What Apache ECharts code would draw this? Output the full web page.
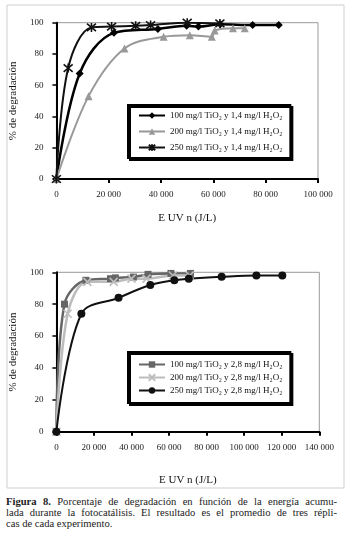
<!DOCTYPE html>
<html>
<head>
<meta charset="utf-8">
<script src="https://cdn.jsdelivr.net/npm/echarts@6/dist/echarts.min.js"></script>
<style>
body{margin:0;background:#fff;}
#main{position:absolute;left:0;top:0;width:352px;height:496px;}
#cap{position:absolute;left:6px;top:496px;width:331px;font:10.6px/11px "Liberation Serif",serif;color:#222;white-space:nowrap;}
#cap div{text-align:justify;text-align-last:justify;}
#cap div.last{text-align-last:left;}
</style>
</head>
<body>
<div id="main"></div>
<div id="cap">
  <div><b>Figura 8.</b> Porcentaje de degradación en función de la energía acumu-</div>
  <div>lada durante la fotocatálisis. El resultado es el promedio de tres répli-</div>
  <div class="last">cas de cada experimento.</div>
</div>
<script>
// grafico superior: 1,4 mg/l H2O2
var nombresA = ['100 mg/l TiO₂ y 1,4 mg/l H₂O₂', '200 mg/l TiO₂ y 1,4 mg/l H₂O₂', '250 mg/l TiO₂ y 1,4 mg/l H₂O₂'];
var a100 = [[0,0],[8900,67.5],[22000,93.5],[38800,96],[49800,98],[54300,97.5],[62600,99],[75000,98.5],[85000,98.5]];
var a200 = [[0,0],[12300,53],[26000,83.5],[41000,91],[51000,92],[59400,91],[60500,95],[67500,96.5],[72000,96.5]];
var a250 = [[0,0],[4500,71],[13400,97],[21100,97.5],[30300,98],[36000,98.5],[50000,100],[62500,99.5]];

// grafico inferior: 2,8 mg/l H2O2
var nombresB = ['100 mg/l TiO₂ y 2,8 mg/l H₂O₂', '200 mg/l TiO₂ y 2,8 mg/l H₂O₂', '250 mg/l TiO₂ y 2,8 mg/l H₂O₂'];
var b100 = [[0,0],[4300,80],[15700,95],[28800,96],[31400,96.5],[41000,97],[48800,98.7],[61000,99.3],[71400,99.3]];
var b200 = [[0,0],[6000,74],[16500,94],[30500,94],[40000,96],[48000,96],[62000,98],[71000,98]];
var b250 = [[0,0],[13300,74],[33100,84],[50000,92],[62800,95],[70500,96],[88000,97.2],[106500,98],[120300,98]];

var ticksY = [0, 20, 40, 60, 80, 100];

var fuente = '"Liberation Serif", "DejaVu Serif", serif';
var asterisco = 'path://M0,0L10,10M10,0L0,10M5,-1L5,11';
var cruz = 'path://M0,0L10,10M10,0L0,10';

function miles(v){
    return v == 0 ? '0' : String(v).replace(/\B(?=(\d{3})+(?!\d))/g, ' ');
}

function ejeX(idx, max){
    return {
        gridIndex: idx, type: 'value', min: 0, max: max, interval: 20000,
        name: 'E UV n (J/L)', nameLocation: 'middle', nameGap: idx == 0 ? 34 : 43,
        nameTextStyle: {fontFamily: fuente, fontSize: 11, color: '#111'},
        axisLine: {show: true, onZero: false, lineStyle: {color: '#000', width: 2}},
        axisTick: {show: true, length: 4, lineStyle: {color: '#000', width: 2}},
        axisLabel: {fontFamily: fuente, fontSize: 9, color: '#222', margin: 11, formatter: miles},
        splitLine: {show: false}
    };
}

function ejeY(idx){
    return {
        gridIndex: idx, type: 'value', min: 0, max: 100, interval: 20,
        name: '% de degradación', nameLocation: 'middle', nameGap: 33, nameRotate: 90,
        nameTextStyle: {fontFamily: fuente, fontSize: 11, color: '#111'},
        axisLine: {show: true, onZero: false, lineStyle: {color: '#000', width: 2}},
        axisTick: {show: true, length: 4, lineStyle: {color: '#000', width: 1.5}},
        axisLabel: {fontFamily: fuente, fontSize: 9, color: '#222', margin: 13,
            formatter: function(v){ return ticksY.indexOf(v) >= 0 ? String(v) : ''; }},
        splitLine: {show: false}
    };
}

function leyenda(nombres, top, gap, pad){
    return {
        data: nombres, orient: 'vertical', left: 128, top: top,
        padding: [pad, 8, pad, 10], itemGap: gap, itemWidth: 26, itemHeight: 8,
        backgroundColor: '#fff', borderColor: '#000', borderWidth: 2,
        shadowColor: '#000', shadowOffsetX: 2, shadowOffsetY: 2, shadowBlur: 0,
        textStyle: {fontFamily: fuente, fontSize: 9, color: '#111'}
    };
}

function serie(nombre, datos, idx, color, ancho, simbolo, tam, trazo){
    return {
        name: nombre, type: 'line', xAxisIndex: idx, yAxisIndex: idx,
        data: datos, smooth: 0.35, symbol: simbolo, symbolSize: tam, showSymbol: true,
        lineStyle: {color: color, width: ancho},
        itemStyle: trazo ? {color: color, borderColor: color, borderWidth: 1.6}
                         : {color: color, borderWidth: 0},
        animation: false
    };
}

var myChart = echarts.init(document.getElementById('main'));
var option = {
    animation: false,
    backgroundColor: '#fff',
    graphic: [{
        type: 'rect', silent: true, z: -10,
        shape: {x: 7, y: 5, width: 337, height: 483},
        style: {fill: 'none', stroke: '#cfcfcf', lineWidth: 1}
    }],
    grid: [
        {left: 55.5, top: 22.7, width: 262.5, height: 156.3, show: true, borderColor: '#999', borderWidth: 1},
        {left: 51.7, top: 272.3, width: 267.6, height: 159.4, show: true, borderColor: '#999', borderWidth: 1}
    ],
    xAxis: [ejeX(0, 100000), ejeX(1, 140000)],
    yAxis: [ejeY(0), ejeY(1)],
    legend: [leyenda(nombresA, 105, 7, 6), leyenda(nombresB, 352, 4, 8)],
    series: [
        serie(nombresA[0], a100, 0, '#000', 2.5, 'diamond', 8),
        serie(nombresA[1], a200, 0, '#999', 2, 'triangle', 8),
        serie(nombresA[2], a250, 0, '#111', 2, asterisco, 9, true),
        serie(nombresB[0], b100, 1, '#666', 2.5, 'rect', 7),
        serie(nombresB[1], b200, 1, '#bdbdbd', 2.5, cruz, 8, true),
        serie(nombresB[2], b250, 1, '#111', 2, 'circle', 8)
    ]
};
myChart.setOption(option);
</script>
</body>
</html>
